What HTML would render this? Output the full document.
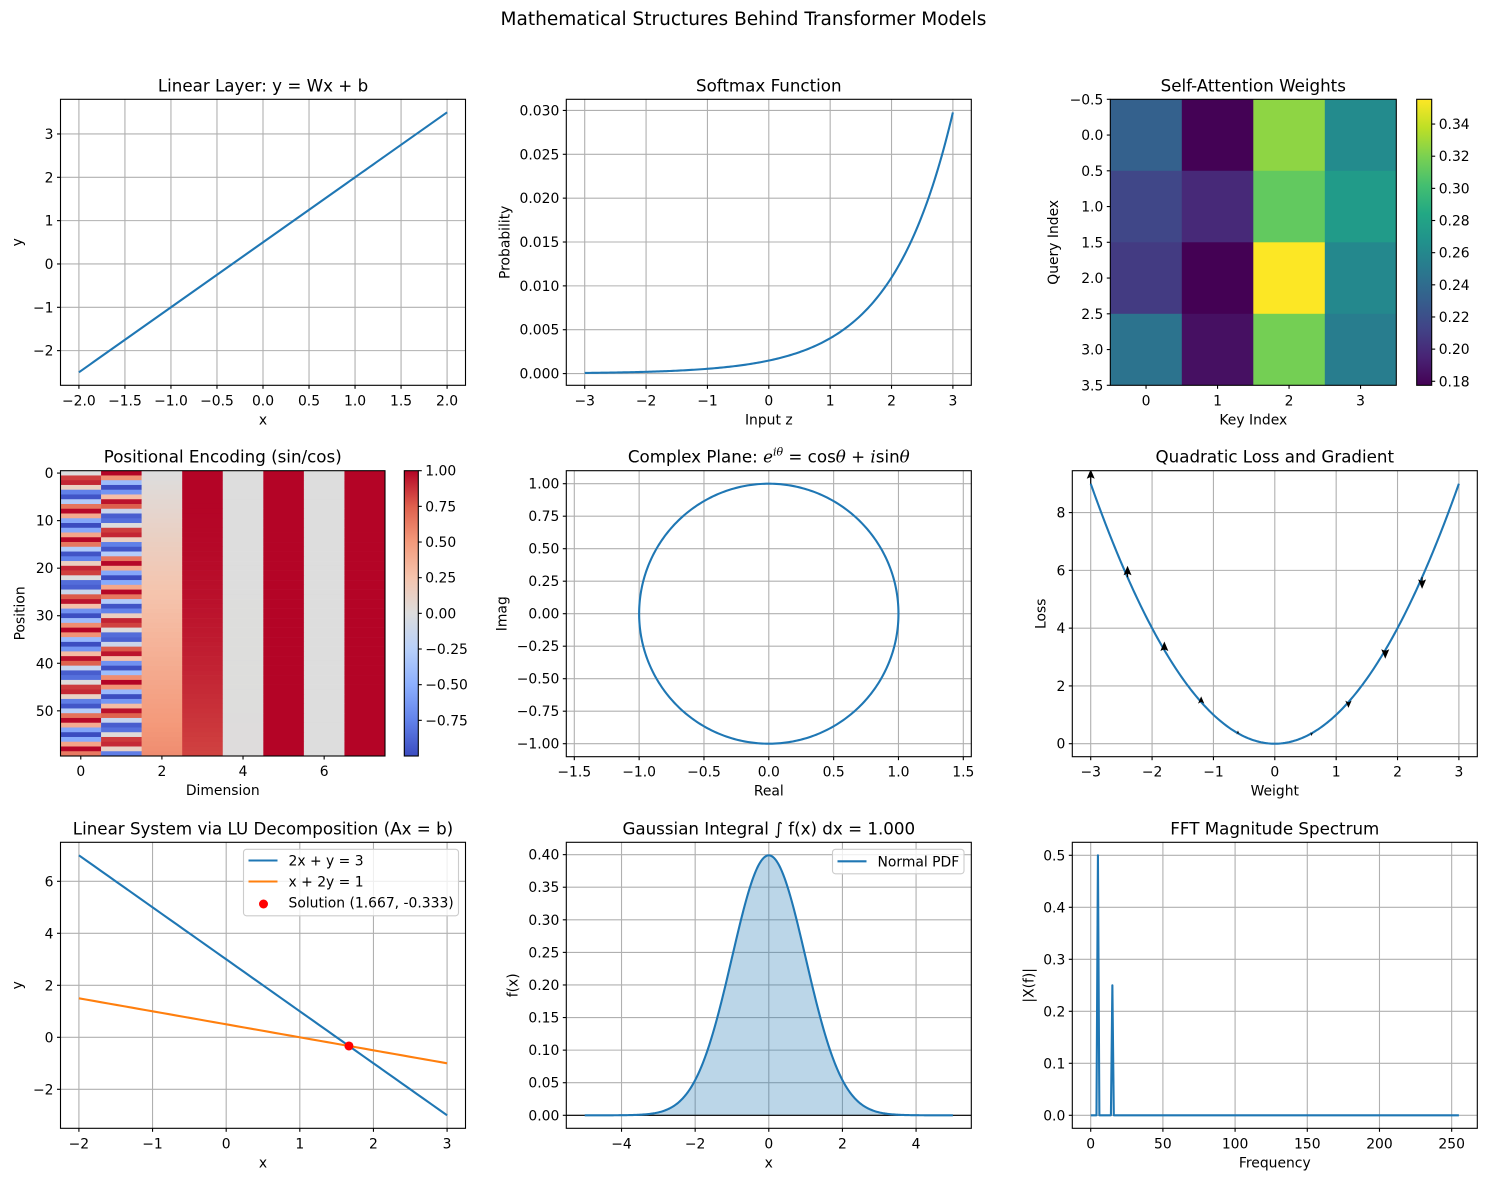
<!DOCTYPE html>
<html><head><meta charset="utf-8">
<style>
html,body{margin:0;padding:0;background:#fff;}
svg{display:block;font-family:"DejaVu Sans","Liberation Sans",sans-serif;}
</style></head>
<body>
<svg id="fig" xmlns="http://www.w3.org/2000/svg" width="1487" height="1181" viewBox="0 0 1487 1181">
<rect width="1487" height="1181" fill="#fff"/>
<text x="743.5" y="25" font-size="18.5" text-anchor="middle" fill="#000">Mathematical Structures Behind Transformer Models</text>
</svg>
<script>
// ---------- data ----------
const linearW = [1.5];
const linearB = [0.5];
const linearXRange = [-2, 2];
const softmaxZRange = [-3, 3];
const softmaxN = [200];
const attnRows = [0, 1, 2, 3];
const attnCols = [0, 1, 2, 3];
const attnRow0 = [0.232, 0.178, 0.325, 0.262];
const attnRow1 = [0.215, 0.198, 0.312, 0.274];
const attnRow2 = [0.208, 0.177, 0.355, 0.260];
const attnRow3 = [0.245, 0.185, 0.318, 0.252];
const peDims = [0, 1, 2, 3, 4, 5, 6, 7];
const pePositions = 60;
const peBase = [10000];
const quiverX = [-3, -2.4, -1.8, -1.2, -0.6, 0, 0.6, 1.2, 1.8, 2.4];
const luEq1 = [2, 1, 3];   // 2x + y = 3
const luEq2 = [1, 2, 1];   // x + 2y = 1
const luSolution = [1.667, -0.333];
const fftPeakFreqs = [5, 15];
const fftPeakMags = [0.5, 0.25];
const fftMaxFreq = [255];

// ticks
const linXTicks = [-2, -1.5, -1, -0.5, 0, 0.5, 1, 1.5, 2];
const linYTicks = [-2, -1, 0, 1, 2, 3];
const smXTicks = [-3, -2, -1, 0, 1, 2, 3];
const smYTicks = [0, 0.005, 0.01, 0.015, 0.02, 0.025, 0.03];
const attYTicks = [-0.5, 0, 0.5, 1, 1.5, 2, 2.5, 3, 3.5];
const attCbTicks = [0.18, 0.20, 0.22, 0.24, 0.26, 0.28, 0.30, 0.32, 0.34];
const peXTicks = [0, 2, 4, 6];
const peYTicks = [0, 10, 20, 30, 40, 50];
const peCbTicks = [-0.75, -0.5, -0.25, 0, 0.25, 0.5, 0.75, 1];
const cpTicks = [-1.5, -1, -0.5, 0, 0.5, 1, 1.5];
const cpYTicks = [-1, -0.75, -0.5, -0.25, 0, 0.25, 0.5, 0.75, 1];
const qXTicks = [-3, -2, -1, 0, 1, 2, 3];
const qYTicks = [0, 2, 4, 6, 8];
const luXTicks = [-2, -1, 0, 1, 2, 3];
const luYTicks = [-2, 0, 2, 4, 6];
const gXTicks = [-4, -2, 0, 2, 4];
const gYTicks = [0, 0.05, 0.1, 0.15, 0.2, 0.25, 0.3, 0.35, 0.4];
const fXTicks = [0, 50, 100, 150, 200, 250];
const fYTicks = [0, 0.1, 0.2, 0.3, 0.4, 0.5];

// ---------- helpers ----------
const NS = "http://www.w3.org/2000/svg";
const fig = document.getElementById('fig');
const BLUE = '#1f77b4', ORANGE = '#ff7f0e';
const LW = 2.1;
function mk(tag, attrs, parent) {
  const e = document.createElementNS(NS, tag);
  for (const k in attrs) e.setAttribute(k, attrs[k]);
  (parent || fig).appendChild(e);
  return e;
}
function fmt(v, d) { const s = v.toFixed(d); return s.replace('-', '\u2212'); }
function lerpCmap(stops, t) {
  t = Math.max(0, Math.min(1, t));
  const n = stops.length - 1, f = t * n, i = Math.min(n - 1, Math.floor(f)), u = f - i;
  const a = stops[i], b = stops[i + 1];
  return 'rgb(' + [0,1,2].map(k => Math.round(a[k] + (b[k] - a[k]) * u)).join(',') + ')';
}
const VIRIDIS = [[68,1,84],[72,36,117],[65,68,135],[53,95,141],[42,120,142],[33,145,140],[34,168,132],[68,191,112],[122,209,81],[189,223,38],[253,231,37]];
const COOLWARM = [[59,76,192],[98,130,234],[141,176,254],[184,208,249],[221,221,221],[245,196,173],[244,154,123],[222,96,77],[180,4,38]];

function makeAxes(o) {
  const g = mk('g', {});
  
  
  const sx = v => o.l + (v - o.x0) / (o.x1 - o.x0) * o.w;
  const sy = o.inv ? (v => o.t + (v - o.y0) / (o.y1 - o.y0) * o.h)
                   : (v => o.t + o.h - (v - o.y0) / (o.y1 - o.y0) * o.h);
  const clipId = 'clip-' + o.name;
  const cp = mk('clipPath', { id: clipId }, g);
  mk('rect', { x: o.l, y: o.t, width: o.w, height: o.h }, cp);
  const plot = mk('g', { 'clip-path': 'url(#' + clipId + ')' }, g);
  const ax = { g, plot, sx, sy, o };
  const gridG = mk('g', {}, plot);
  ax.drawFrame = function () {
    if (o.grid) {
      o.xt.forEach(v => mk('line', { x1: sx(v), x2: sx(v), y1: o.t, y2: o.t + o.h, stroke: '#b0b0b0', 'stroke-width': 1.1 }, gridG));
      o.yt.forEach(v => mk('line', { y1: sy(v), y2: sy(v), x1: o.l, x2: o.l + o.w, stroke: '#b0b0b0', 'stroke-width': 1.1 }, gridG));
    }
    const fr = mk('rect', { x: o.l, y: o.t, width: o.w, height: o.h, fill: 'none', stroke: '#000', 'stroke-width': 1.1 }, g);
    
    
    const xg = mk('g', { 'font-size': 13.9, fill: '#000', 'text-anchor': 'middle' }, g);
    
    
    o.xt.forEach(v => {
      mk('line', { x1: sx(v), x2: sx(v), y1: o.t + o.h, y2: o.t + o.h + 3.5, stroke: '#000', 'stroke-width': 1.1 }, xg);
      const t = mk('text', { x: sx(v), y: o.t + o.h + 20 }, xg);
      t.textContent = fmt(v, o.xd);
    });
    const yg = mk('g', { 'font-size': 13.9, fill: '#000', 'text-anchor': 'end' }, g);
    
    
    o.yt.forEach(v => {
      mk('line', { x1: o.l - 3.5, x2: o.l, y1: sy(v), y2: sy(v), stroke: '#000', 'stroke-width': 1.1 }, yg);
      const t = mk('text', { x: o.l - 7, y: sy(v) + 5 }, yg);
      t.textContent = fmt(v, o.yd);
    });
    const ti = mk('text', { x: o.l + o.w / 2, y: o.t - 8, 'font-size': 16.7, 'text-anchor': 'middle', fill: '#000' }, g);
    
    
    if (o.titleHTML) ti.innerHTML = o.titleHTML; else ti.textContent = o.title;
    const xl = mk('text', { x: o.l + o.w / 2, y: o.t + o.h + 39, 'font-size': 13.9, 'text-anchor': 'middle', fill: '#000' }, g);
    
    
    xl.textContent = o.xlabel;
    const yx = o.ylx + 5, yy = o.t + o.h / 2;
    const yl = mk('text', { x: yx, y: yy, 'font-size': 13.9, 'text-anchor': 'middle', fill: '#000', transform: 'rotate(-90 ' + yx + ' ' + yy + ')' }, g);
    
    
    yl.textContent = o.ylabel;
  };
  ax.line = function (xs, ys, color, name, w) {
    const d = xs.map((x, i) => (i ? 'L' : 'M') + sx(x).toFixed(2) + ' ' + sy(ys[i]).toFixed(2)).join('');
    const p = mk('path', { d, fill: 'none', stroke: color, 'stroke-width': w || LW, 'stroke-linejoin': 'round' }, plot);
    
    
    return p;
  };
  return ax;
}
function colorbar(o) {
  const g = mk('g', {});
  
  
  const gid = 'grad-' + o.name;
  const lg = mk('linearGradient', { id: gid, x1: 0, y1: 1, x2: 0, y2: 0 }, g);
  o.stops.forEach((c, i) => mk('stop', { offset: i / (o.stops.length - 1), 'stop-color': 'rgb(' + c.join(',') + ')' }, lg));
  mk('rect', { x: o.l, y: o.t, width: o.w, height: o.h, fill: 'url(#' + gid + ')', stroke: '#000', 'stroke-width': 1.1 }, g);
  const sy = v => o.t + o.h - (v - o.v0) / (o.v1 - o.v0) * o.h;
  o.ticks.forEach(v => {
    mk('line', { x1: o.l + o.w, x2: o.l + o.w + 3.5, y1: sy(v), y2: sy(v), stroke: '#000', 'stroke-width': 1.1 }, g);
    const t = mk('text', { x: o.l + o.w + 7, y: sy(v) + 5, 'font-size': 13.9, fill: '#000' }, g);
    t.textContent = fmt(v, o.d);
  });
}
function range(a, b, n) { const r = []; for (let i = 0; i < n; i++) r.push(a + (b - a) * i / (n - 1)); return r; }

const CL = [60.5, 566.3, 1072.3], AW = 405, RT = [99.3, 470.7, 842.3], AH = 286;

// ---------- 1 Linear ----------
{
  const ax = makeAxes({ name: 'linear-layer-chart', l: CL[0], t: RT[0], w: AW, h: AH, x0: -2.2, x1: 2.2, y0: -2.8, y1: 3.8,
    xt: linXTicks, yt: linYTicks, xd: 1, yd: 0, grid: true, title: 'Linear Layer: y = Wx + b', xlabel: 'x', ylabel: 'y', ylx: CL[0] - 43.5 });
  ax.drawFrame();
  const xs = range(linearXRange[0], linearXRange[1], 100);
  ax.line(xs, xs.map(x => linearW[0] * x + linearB[0]), BLUE, 'linear-line');
}
// ---------- 2 Softmax ----------
{
  const ax = makeAxes({ name: 'softmax-chart', l: CL[1], t: RT[0], w: AW, h: AH, x0: -3.3, x1: 3.3, y0: -0.001336, y1: 0.03127,
    xt: smXTicks, yt: smYTicks, xd: 0, yd: 3, grid: true, title: 'Softmax Function', xlabel: 'Input z', ylabel: 'Probability', ylx: CL[1] - 62 });
  ax.drawFrame();
  const zs = range(softmaxZRange[0], softmaxZRange[1], softmaxN[0]);
  const ex = zs.map(Math.exp), s = ex.reduce((a, b) => a + b, 0);
  ax.line(zs, ex.map(e => e / s), BLUE, 'softmax-curve');
}
// ---------- 3 Attention ----------
{
  const attn = [attnRow0, attnRow1, attnRow2, attnRow3];
  const vmin = 0.1775, vmax = 0.3554;
  const ax = makeAxes({ name: 'attention-heatmap', l: 1110.3, t: RT[0], w: 286, h: AH, x0: -0.5, x1: 3.5, y0: -0.5, y1: 3.5, inv: true,
    xt: attnCols, yt: attYTicks, xd: 0, yd: 1, grid: false, title: 'Self-Attention Weights', xlabel: 'Key Index', ylabel: 'Query Index', ylx: 1053 });
  attn.forEach((row, r) => row.forEach((v, c) => {
    const cell = mk('rect', { x: ax.sx(c - 0.5), y: ax.sy(r - 0.5), width: ax.sx(c + 0.5) - ax.sx(c - 0.5) + 0.3, height: ax.sy(r + 0.5) - ax.sy(r - 0.5) + 0.3,
      fill: lerpCmap(VIRIDIS, (v - vmin) / (vmax - vmin)) }, ax.plot);
    
    
  }));
  ax.drawFrame();
  colorbar({ name: 'attention-colorbar', l: 1416.7, t: RT[0], w: 15, h: AH, v0: vmin, v1: vmax, ticks: attCbTicks, d: 2, stops: VIRIDIS });
}
// ---------- 4 Positional encoding ----------
{
  const ax = makeAxes({ name: 'positional-encoding-heatmap', l: CL[0], t: RT[1], w: 324.5, h: AH - 0.7, x0: -0.5, x1: 7.5, y0: -0.5, y1: 59.5, inv: true,
    xt: peXTicks, yt: peYTicks, xd: 0, yd: 0, grid: false, title: 'Positional Encoding (sin/cos)', xlabel: 'Dimension', ylabel: 'Position', ylx: CL[0] - 41 });
  const D = peDims.length;
  for (let p = 0; p < pePositions; p++) {
    peDims.forEach(d => {
      const i2 = d - (d % 2);
      const ang = p / Math.pow(peBase[0], 2 * i2 / D);
      const v = d % 2 === 0 ? Math.sin(ang) : Math.cos(ang);
      const cell = mk('rect', { x: ax.sx(d - 0.5), y: ax.sy(p - 0.5), width: ax.sx(d + 0.5) - ax.sx(d - 0.5) + 0.3, height: ax.sy(p + 0.5) - ax.sy(p - 0.5) + 0.3,
        fill: lerpCmap(COOLWARM, (v + 1) / 2) }, ax.plot);
      
      
    });
  }
  ax.drawFrame();
  colorbar({ name: 'pe-colorbar', l: 404.3, t: RT[1], w: 14, h: AH - 0.7, v0: -1, v1: 1, ticks: peCbTicks, d: 2, stops: COOLWARM });
}
// ---------- 5 Complex plane ----------
{
  const ax = makeAxes({ name: 'complex-plane-chart', l: CL[1], t: RT[1], w: AW, h: AH, x0: -1.5617, x1: 1.5617, y0: -1.1, y1: 1.1,
    xt: cpTicks, yt: cpYTicks, xd: 1, yd: 2, grid: true,
    titleHTML: 'Complex Plane: <tspan font-style="italic" font-family="DejaVu Serif, serif">e</tspan><tspan font-size="11" dy="-7" font-style="italic" font-family="DejaVu Serif, serif">iθ</tspan><tspan dy="7"> = cos</tspan><tspan font-style="italic" font-family="DejaVu Serif, serif">θ</tspan> + <tspan font-style="italic" font-family="DejaVu Serif, serif">i</tspan>sin<tspan font-style="italic" font-family="DejaVu Serif, serif">θ</tspan>',
    xlabel: 'Real', ylabel: 'Imag', ylx: CL[1] - 64.6 });
  ax.drawFrame();
  const th = range(0, 2 * Math.PI, 400);
  ax.line(th.map(Math.cos), th.map(Math.sin), BLUE, 'unit-circle');
}
// ---------- 6 Quadratic loss ----------
{
  const ax = makeAxes({ name: 'quadratic-loss-chart', l: CL[2], t: RT[1], w: AW, h: AH, x0: -3.3, x1: 3.3, y0: -0.45, y1: 9.45,
    xt: qXTicks, yt: qYTicks, xd: 0, yd: 0, grid: true, title: 'Quadratic Loss and Gradient', xlabel: 'Weight', ylabel: 'Loss', ylx: CL[2] - 32 });
  ax.drawFrame();
  const xs = range(-3, 3, 200);
  ax.line(xs, xs.map(x => x * x), BLUE, 'loss-curve');
  quiverX.forEach(x => {
    const g = -2 * x;
    const L = Math.abs(g) * 2.4;
    if (L < 0.5) return;
    const bx = ax.sx(x), by = ax.sy(x * x), dir = g > 0 ? -1 : 1;
    const hl = Math.min(8, L), hw = Math.min(4, L * 0.55);
    const tipY = by + dir * L, neckY = tipY - dir * hl;
    const d = 'M' + (bx - 0.6) + ' ' + by + 'L' + (bx - 0.6) + ' ' + neckY + 'L' + (bx - hw) + ' ' + (neckY - dir * 1.5) + 'L' + bx + ' ' + tipY +
      'L' + (bx + hw) + ' ' + (neckY - dir * 1.5) + 'L' + (bx + 0.6) + ' ' + neckY + 'L' + (bx + 0.6) + ' ' + by + 'Z';
    const a = mk('path', { d, fill: '#000' }, ax.plot);
    
    
  });
}
// ---------- 7 LU ----------
{
  const ax = makeAxes({ name: 'lu-system-chart', l: CL[0], t: RT[2], w: AW, h: AH, x0: -2.25, x1: 3.25, y0: -3.5, y1: 7.5,
    xt: luXTicks, yt: luYTicks, xd: 0, yd: 0, grid: true, title: 'Linear System via LU Decomposition (Ax = b)', xlabel: 'x', ylabel: 'y', ylx: CL[0] - 43.5 });
  ax.drawFrame();
  const xs = range(-2, 3, 50);
  ax.line(xs, xs.map(x => (luEq1[2] - luEq1[0] * x) / luEq1[1]), BLUE, 'equation-1-line');
  ax.line(xs, xs.map(x => (luEq2[2] - luEq2[0] * x) / luEq2[1]), ORANGE, 'equation-2-line');
  const pt = mk('circle', { cx: ax.sx(luSolution[0]), cy: ax.sy(luSolution[1]), r: 4.5, fill: '#ff0000' }, ax.plot);
  
  
  const lg = mk('g', {});
  
  
  mk('rect', { x: 243.5, y: 849.3, width: 215, height: 66.5, rx: 3, fill: '#fff', 'fill-opacity': 0.8, stroke: '#cccccc', 'stroke-width': 1.1 }, lg);
  const entries = [['2x + y = 3', BLUE, 'line'], ['x + 2y = 1', ORANGE, 'line'], ['Solution (1.667, -0.333)', '#ff0000', 'dot']];
  entries.forEach((e, i) => {
    const y = 860.5 + i * 21;
    if (e[2] === 'line') mk('line', { x1: 248.5, x2: 277.5, y1: y, y2: y, stroke: e[1], 'stroke-width': LW }, lg);
    else mk('circle', { cx: 263.5, cy: y + 1.5, r: 4.5, fill: e[1] }, lg);
    const t = mk('text', { x: 288.5, y: y + 5, 'font-size': 13.9, fill: '#000' }, lg);
    t.textContent = e[0];
  });
}
// ---------- 8 Gaussian ----------
{
  const ax = makeAxes({ name: 'gaussian-chart', l: CL[1], t: RT[2], w: AW, h: AH, x0: -5.5, x1: 5.5, y0: -0.01995, y1: 0.41894,
    xt: gXTicks, yt: gYTicks, xd: 0, yd: 2, grid: true, title: 'Gaussian Integral \u222B f(x) dx = 1.000', xlabel: 'x', ylabel: 'f(x)', ylx: CL[1] - 53.6 });
  ax.drawFrame();
  const xs = range(-5, 5, 300), ys = xs.map(x => Math.exp(-x * x / 2) / Math.sqrt(2 * Math.PI));
  const d = 'M' + ax.sx(-5) + ' ' + ax.sy(0) + xs.map((x, i) => 'L' + ax.sx(x).toFixed(2) + ' ' + ax.sy(ys[i]).toFixed(2)).join('') + 'L' + ax.sx(5) + ' ' + ax.sy(0) + 'Z';
  const f = mk('path', { d, fill: BLUE, 'fill-opacity': 0.3 }, ax.plot);
  
  
  const h0 = mk('line', { x1: CL[1], x2: CL[1] + AW, y1: ax.sy(0), y2: ax.sy(0), stroke: '#000', 'stroke-width': 1.1 }, ax.plot);
  
  
  ax.line(xs, ys, BLUE, 'gaussian-curve');
  const lg = mk('g', {});
  
  
  mk('rect', { x: 832.5, y: 849.3, width: 131.5, height: 24.5, rx: 3, fill: '#fff', 'fill-opacity': 0.8, stroke: '#cccccc', 'stroke-width': 1.1 }, lg);
  mk('line', { x1: 837.5, x2: 866.5, y1: 861.3, y2: 861.3, stroke: BLUE, 'stroke-width': LW }, lg);
  const t = mk('text', { x: 877.5, y: 866.3, 'font-size': 13.9, fill: '#000' }, lg);
  t.textContent = 'Normal PDF';
}
// ---------- 9 FFT ----------
{
  const ax = makeAxes({ name: 'fft-chart', l: CL[2], t: RT[2], w: AW, h: AH, x0: -12.75, x1: 267.75, y0: -0.025, y1: 0.525,
    xt: fXTicks, yt: fYTicks, xd: 0, yd: 1, grid: true, title: 'FFT Magnitude Spectrum', xlabel: 'Frequency', ylabel: '|X(f)|', ylx: CL[2] - 44 });
  ax.drawFrame();
  const fx = [], fy = [];
  for (let k = 0; k <= fftMaxFreq[0]; k++) {
    const idx = fftPeakFreqs.indexOf(k);
    fx.push(k); fy.push(idx >= 0 ? fftPeakMags[idx] : 0);
  }
  ax.line(fx, fy, BLUE, 'fft-spectrum-line');
}
</script>
</body></html>
